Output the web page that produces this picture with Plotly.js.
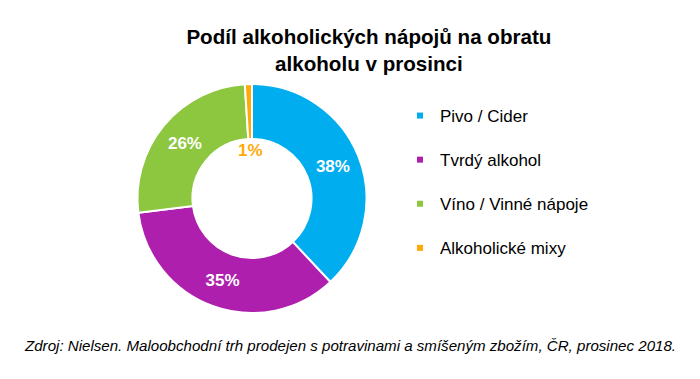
<!DOCTYPE html>
<html><head><meta charset="utf-8">
<script src="https://cdn.plot.ly/plotly-3.0.1.min.js"></script>
<style>body{margin:0;background:#fff}#c{width:700px;height:379px}</style>
</head><body><div id="c"></div>
<script>
const categories = ["Pivo / Cider", "Tvrdý alkohol", "Víno / Vinné nápoje", "Alkoholické mixy"];
const values = [38, 35, 26, 1];
const labelsText = ["38%", "35%", "26%", "1%"];
const colors = ["#00AEEF", "#AE1FAE", "#8DC63F", "#FFA908"];
const titleText = "Podíl alkoholických nápojů na obratu<br>alkoholu v prosinci";
const sourceText = "Zdroj: Nielsen. Maloobchodní trh prodejen s potravinami a smíšeným zbožím, ČR, prosinec 2018.";

const font = "Liberation Sans, Arial, sans-serif";
const traces = [{
  type: "pie",
  labels: categories,
  values: values,
  text: labelsText.map((t, i) => i === 3 ? "" : t),
  textinfo: "text",
  textposition: "inside",
  insidetextorientation: "horizontal",
  textfont: {family: font, size: 17, color: "#fff", weight: "bold"},
  hole: 0.52,
  sort: false,
  direction: "clockwise",
  rotation: 0,
  marker: {colors: colors, line: {color: "#fff", width: 2}},
  domain: {x: [137/700, 367/700], y: [1 - 313/379, 1 - 84/379]},
  showlegend: false
}];
categories.forEach((c, i) => traces.push({
  type: "scatter", mode: "markers", x: [null], y: [null],
  name: c, legendgroup: "g" + i,
  marker: {symbol: "square", size: 6, color: colors[i]},
  xaxis: "x", yaxis: "y"
}));

const layout = {
  width: 700, height: 379,
  margin: {l: 0, r: 0, t: 0, b: 0},
  paper_bgcolor: "#fff", plot_bgcolor: "#fff",
  font: {family: font, color: "#000"},
  title: {text: titleText, x: 0.527, xanchor: "center", y: 1 - 44/379, yanchor: "top",
          font: {family: font, size: 20.6, weight: "bold", color: "#000"}},
  xaxis: {visible: false, domain: [0.9, 1]},
  yaxis: {visible: false, domain: [0.9, 1]},
  showlegend: true,
  legend: {x: 400/700, xanchor: "left", y: 1 - 98/379, yanchor: "top",
           font: {family: font, size: 17, color: "#000"},
           tracegroupgap: 19, itemwidth: 30, bgcolor: "rgba(0,0,0,0)"},
  annotations: [
    {text: labelsText[3], xref: "paper", yref: "paper", x: 250/700, y: 1 - 150/379,
     showarrow: false, font: {family: font, size: 17, color: colors[3], weight: "bold"}},
    {text: "<i>" + sourceText + "</i>", xref: "paper", yref: "paper", x: 0.5, y: 1 - 356/379,
     showarrow: false, font: {family: font, size: 15.1, color: "#000"}}
  ]
};
Plotly.newPlot("c", traces, layout, {displayModeBar: false, staticPlot: true});
</script></body></html>
